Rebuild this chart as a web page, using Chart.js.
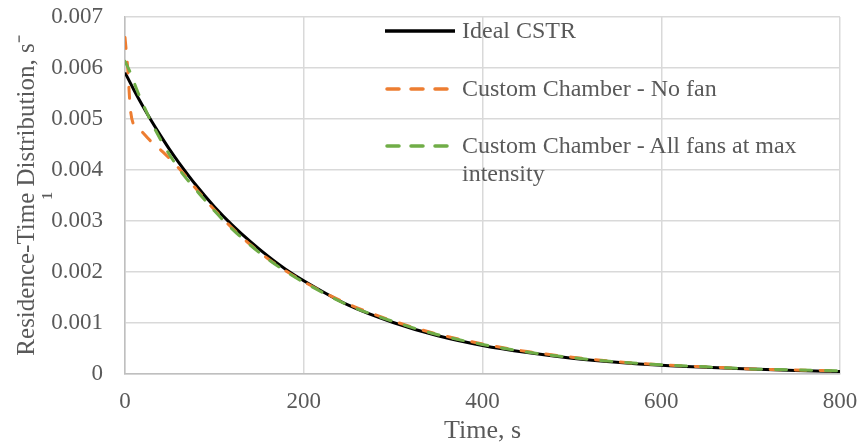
<!DOCTYPE html>
<html>
<head>
<meta charset="utf-8">
<script src="https://cdn.jsdelivr.net/npm/chart.js@4.4.1/dist/chart.umd.min.js"></script>
<style>
  html, body { margin: 0; padding: 0; background: #fff; }
  #wrap { position: relative; width: 864px; height: 447px; }
  #legend { position: absolute; left: 385px; top: 16px; font-family: "Liberation Serif", "Times New Roman", serif; font-size: 24px; color: #595959; }
  .row { display: flex; align-items: flex-start; height: 57.5px; }
  .row svg { flex: none; margin-top: 12px; }
  .row span { width: 400px; line-height: 28px; margin-left: 7px; }
</style>
</head>
<body>
<div id="wrap">
  <canvas id="rtd" width="864" height="447"></canvas>
  <div id="legend"></div>
</div>
<script>
// residence-time distribution E(t), s^-1, read at the listed times
const idealT = [0, 10, 20, 30, 40, 50, 60, 80, 100, 120, 140, 160, 180, 200, 250, 300, 350, 400, 450, 500, 550, 600, 650, 700, 750, 800];
const idealE = [0.00591, 0.00557, 0.00525, 0.00495, 0.00467, 0.00440, 0.00415, 0.00369, 0.00328, 0.00292, 0.00260, 0.00231, 0.00205, 0.00183, 0.00135, 0.00101, 0.00075, 0.00056, 0.00042, 0.00031, 0.00023, 0.00017, 0.00013, 0.00010, 0.00007, 0.00005];

const noFanT = [0, 3, 6, 9, 15, 28, 42, 62, 80, 100, 120, 140, 160, 180, 200, 250, 300, 350, 400, 450, 500, 550, 600, 650, 700, 750, 800];
const noFanE = [0.00660, 0.00600, 0.00520, 0.00492, 0.00482, 0.00458, 0.00436, 0.00400, 0.00362, 0.00322, 0.00286, 0.00254, 0.00226, 0.00202, 0.00181, 0.00137, 0.00104, 0.00078, 0.00059, 0.00044, 0.00033, 0.00024, 0.00018, 0.00014, 0.00010, 0.00008, 0.00006];

const allFansT = [0, 5, 15, 30, 45, 60, 80, 100, 120, 140, 160, 180, 200, 250, 300, 350, 400, 450, 500, 550, 600, 650, 700, 750, 800];
const allFansE = [0.00613, 0.00595, 0.00550, 0.00492, 0.00444, 0.00403, 0.00360, 0.00320, 0.00284, 0.00253, 0.00225, 0.00201, 0.00180, 0.00135, 0.00103, 0.00077, 0.00058, 0.00043, 0.00032, 0.00024, 0.00018, 0.00014, 0.00010, 0.00008, 0.00006];

const seriesNames = ['Ideal CSTR', 'Custom Chamber - No fan', 'Custom Chamber - All fans at max intensity'];
const seriesColors = ['#000000', '#ed7d31', '#70ad47'];
const seriesDash = [[], [11, 14], [11, 14]];

const xTitle = 'Time, s';
const yTitle = ['Residence-Time Distribution, s\u207B', '\u00B9'];

const toPts = (ts, es) => ts.map((t, i) => ({ x: t, y: es[i] }));
const sets = [toPts(idealT, idealE), toPts(noFanT, noFanE), toPts(allFansT, allFansE)];

const serif = '"Liberation Serif", "Times New Roman", serif';
const font = { family: serif, size: 23 };
const ink = '#595959';

new Chart(document.getElementById('rtd'), {
  type: 'line',
  data: {
    datasets: sets.map((pts, i) => ({
      label: seriesNames[i],
      data: pts,
      borderColor: seriesColors[i],
      borderWidth: 3,
      borderDash: seriesDash[i],
      borderCapStyle: i ? 'round' : 'butt',
      pointRadius: 0,
      cubicInterpolationMode: 'monotone',
      fill: false,
      order: 3 - i
    }))
  },
  options: {
    responsive: false,
    animation: false,
    layout: { padding: { top: 17, right: 24, left: 0, bottom: 0 } },
    plugins: { legend: { display: false }, tooltip: { enabled: false } },
    scales: {
      x: {
        type: 'linear', min: 0, max: 800,
        ticks: { stepSize: 200, color: ink, font: font, padding: 14, maxRotation: 0 },
        grid: { color: '#d9d9d9', lineWidth: 1.5, drawTicks: false },
        border: { color: '#bfbfbf', width: 1.5 },
        title: { display: true, text: xTitle, color: ink, font: { family: serif, size: 26, lineHeight: 1.1 }, padding: { top: 0, bottom: 2 } },
        afterFit: s => { s.height = 73; s.paddingLeft = 0; s.paddingRight = 0; }
      },
      y: {
        min: 0, max: 0.007,
        ticks: { stepSize: 0.001, color: ink, font: font, padding: 22,
          callback: v => v === 0 ? '0' : v.toFixed(3) },
        grid: { color: '#d9d9d9', lineWidth: 1.5, drawTicks: false },
        border: { color: '#bfbfbf', width: 1.5 },
        title: { display: true, text: yTitle, color: ink, font: { family: serif, size: 25, lineHeight: 1.0 }, padding: { top: 15, bottom: 0 } },
        afterFit: s => { s.width = 125; s.paddingTop = 0; s.paddingBottom = 0; }
      }
    }
  }
});

// legend drawn over the plot area, one row per series
const legend = document.getElementById('legend');
seriesNames.forEach((name, i) => {
  const row = document.createElement('div');
  row.className = 'row';
  const dash = seriesDash[i].length ? 'stroke-dasharray="12 12" stroke-linecap="round"' : '';
  row.innerHTML = '<svg width="70" height="6"><line x1="' + (i ? 2 : 0) + '" y1="3" x2="' + (i ? 68 : 70) + '" y2="3" stroke="' + seriesColors[i] + '" stroke-width="3.5" ' + dash + '/></svg><span>' + name + '</span>';
  legend.appendChild(row);
});
</script>
</body>
</html>
